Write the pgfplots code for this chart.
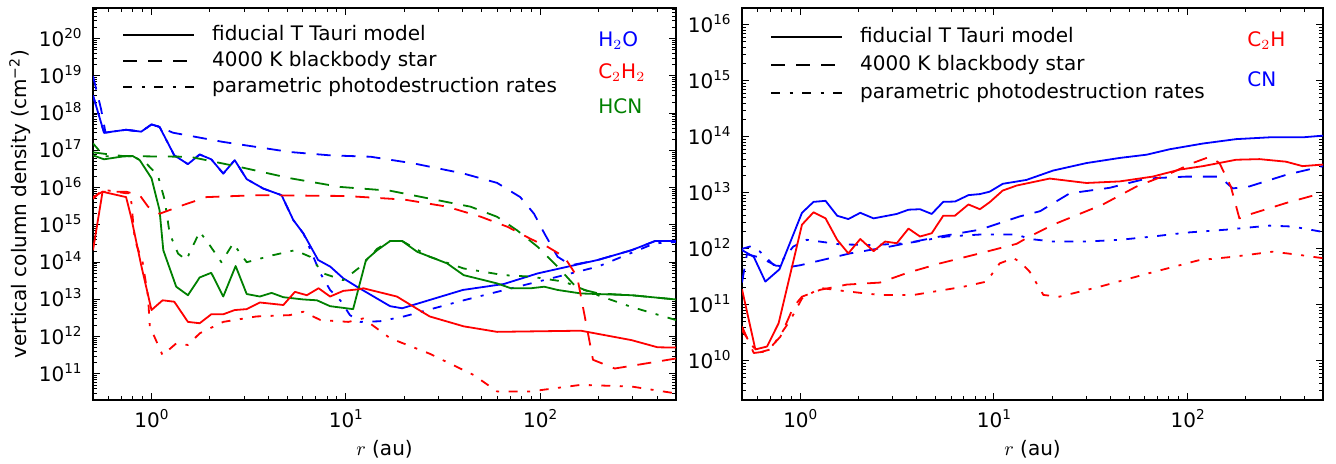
\documentclass[border=0pt]{standalone}
\usepackage{fontspec}
\setmainfont{DejaVu Sans}
\usepackage{pgfplots}
\pgfplotsset{compat=1.18}
\definecolor{mblue}{RGB}{0,0,255}
\definecolor{mred}{RGB}{255,0,0}
\definecolor{mgreen}{RGB}{0,128,0}

\newcommand{\pw}{10\raisebox{4pt}{\fontsize{6.8}{6.8}\selectfont\pgfmathparse{int(round(\tick/2.302585093))}\pgfmathresult}}

\tikzset{
  sol/.style={solid},
  dsh/.style={dash pattern=on 7pt off 5.5pt},
  dd/.style={dash pattern=on 4.5pt off 4.75pt on 1.5pt off 4.75pt},
}
\pgfplotsset{
  every axis/.append style={
    scale only axis,
    xmode=log, ymode=log, xmin=0.5, xmax=500,
    xtick={1,10,100},
    minor xtick={0.6,0.7,0.8,0.9,2,3,4,5,6,7,8,9,20,30,40,50,60,70,80,90,200,300,400},
    tick align=inside, xtick pos=both, ytick pos=both,
    major tick length=3.5pt, minor tick length=2pt,
    axis line style={line width=1.1pt},
    every tick/.style={black, line width=0.5pt},
    xticklabel={\pw}, yticklabel={\pw},
    xticklabel style={anchor=base, inner sep=0pt, yshift=-13.7pt},
    yticklabel style={anchor=base east, inner sep=0pt, xshift=-5.5pt, yshift=-3.7pt},
    xlabel={$r$ (au)},
    no markers,
    legend cell align=left,
  },
  every axis x label/.style={at={(axis description cs:0.5,-0.125)}, anchor=center},
  every axis plot/.append style={line width=0.9pt, line join=round},
  legend image code/.code={\draw[line width=0.9pt,#1] (0pt,0pt) -- (35.5pt,0pt);},
}

\begin{document}
\fontsize{10}{12}\selectfont
\begin{tikzpicture}
\path[use as bounding box] (0,0) rectangle (668pt,232pt);

% left panel: H2O, C2H2, HCN
\begin{axis}[at={(46.5pt,32pt)}, anchor=south west,
  width=291.5pt, height=196pt,
  ymin=2e10, ymax=6.7e20,
  ytick={1e11,1e12,1e13,1e14,1e15,1e16,1e17,1e18,1e19,1e20},
  minor ytick={3e10,4e10,5e10,6e10,7e10,8e10,9e10,
    2e11,3e11,4e11,5e11,6e11,7e11,8e11,9e11, 2e12,3e12,4e12,5e12,6e12,7e12,8e12,9e12,
    2e13,3e13,4e13,5e13,6e13,7e13,8e13,9e13, 2e14,3e14,4e14,5e14,6e14,7e14,8e14,9e14,
    2e15,3e15,4e15,5e15,6e15,7e15,8e15,9e15, 2e16,3e16,4e16,5e16,6e16,7e16,8e16,9e16,
    2e17,3e17,4e17,5e17,6e17,7e17,8e17,9e17, 2e18,3e18,4e18,5e18,6e18,7e18,8e18,9e18,
    2e19,3e19,4e19,5e19,6e19,7e19,8e19,9e19, 2e20,3e20,4e20,5e20,6e20},
  ylabel={vertical column density (cm\textsuperscript{−2})},
  every axis y label/.style={at={(axis description cs:-0.125,0.5)}, rotate=90, anchor=center},
  legend style={at={(0.0497,0.957)}, anchor=north west, draw=none, fill=none, inner sep=0pt,
    row sep=3.5pt, nodes={inner sep=0pt, text height=7.5pt, text depth=2pt},
    /tikz/every odd column/.append style={column sep=8.5pt}},
]
\addlegendimage{black,sol}\addlegendentry{fiducial T Tauri model}
\addlegendimage{black,dsh}\addlegendentry{4000 K blackbody star}
\addlegendimage{black,dd}\addlegendentry{parametric photodestruction rates}

% H2O
\addplot[mblue,sol] coordinates {
(0.5,3.0e18) (0.57,3.0e17) (0.74,3.6e17) (0.885,3.2e17) (1.0,5.0e17) (1.10,4.3e17)
(1.31,7.4e16) (1.54,4.3e16) (1.77,7.8e16) (2.03,5.8e16) (2.34,2.4e16) (2.68,5.5e16)
(3.09,1.7e16) (3.76,9.5e15) (4.67,6.3e15) (5.37,1.35e15) (6.05,5.9e14) (7.2,1.15e14)
(8.32,7.6e13) (9.7,3.7e13) (11.4,2.2e13) (15.0,9.5e12) (16.9,6.6e12) (19.5,5.8e12)
(40,1.8e13) (65,2.6e13) (97,5.0e13) (198,1.15e14) (295,2.1e14) (390,3.7e14) (500,3.7e14)};
\addplot[mblue,dsh] coordinates {
(0.5,1.0e19) (0.55,1.3e18) (0.58,3.0e17) (0.74,3.6e17) (0.885,3.2e17) (1.0,5.0e17)
(1.10,4.3e17) (1.29,3.0e17) (2.33,1.7e17) (5.16,9.1e16) (8.3,7.4e16) (13.4,6.8e16)
(22.3,4.5e16) (40.4,2.4e16) (60,1.35e16) (79,5.6e15) (93,2.0e15) (105,6.0e14)
(123,1.4e14) (144,8.3e13) (198,1.15e14) (295,2.1e14) (390,3.7e14) (500,3.7e14)};
\addplot[mblue,dd] coordinates {
(0.5,3.0e18) (0.57,3.0e17) (0.74,3.6e17) (0.885,3.2e17) (1.0,5.0e17) (1.10,4.3e17)
(1.31,7.4e16) (1.54,4.3e16) (1.77,7.8e16) (2.03,5.8e16) (2.34,2.4e16) (2.68,5.5e16)
(3.09,1.7e16) (3.76,9.5e15) (4.67,6.3e15) (5.37,1.35e15) (6.05,5.9e14) (7.4,5.0e13)
(8.3,1.8e13) (9.36,9.5e12) (10.5,3.8e12) (11.9,2.5e12) (15,2.6e12) (19.9,3.5e12)
(40.4,9.5e12) (89.6,2.7e13) (198,7.6e13) (388,3.2e14) (500,3.5e14)};

% HCN
\addplot[mgreen,sol] coordinates {
(0.5,7.4e16) (0.57,5.8e16) (0.71,6.9e16) (0.80,7.1e16) (0.87,5.5e16) (1.0,1.8e16)
(1.10,2.5e15) (1.15,2.1e14) (1.34,2.2e13) (1.54,1.3e13) (1.77,3.9e13) (2.03,5.2e13)
(2.34,1.2e13) (2.71,7.9e13) (3.09,1.4e13) (3.61,1.2e13) (4.15,1.5e13) (4.77,1.15e13)
(6.05,1.0e13) (7.1,9.5e12) (8.3,6.6e12) (10.9,5.5e12) (12.7,1.15e14) (14.5,2.1e14)
(16.9,3.7e14) (19.5,3.7e14) (23.3,1.9e14) (33.2,9.3e13) (40.4,4.5e13) (60,2.7e13)
(70.7,2.0e13) (89.6,2.0e13) (105,2.2e13) (123,1.8e13) (162,1.45e13) (295,1.3e13) (500,1.0e13)};
\addplot[mgreen,dsh] coordinates {
(0.5,8.9e16) (0.71,7.1e16) (1.06,6.9e16) (1.57,6.8e16) (2.85,3.6e16) (5.16,1.8e16)
(9.36,1.05e16) (16.9,8.3e15) (27,5.1e15) (43.8,3.1e15) (60,1.66e15) (76,7.2e14)
(97,2.6e14) (123,7.6e13) (155,2.0e13) (200,1.45e13) (295,1.3e13) (500,1.0e13)};
\addplot[mgreen,dd] coordinates {
(0.5,1.55e17) (0.57,7.0e16) (0.8,7.1e16) (0.94,4.5e16) (1.08,2.1e16) (1.17,4.6e15)
(1.24,5.9e14) (1.37,1.7e14) (1.51,1.15e14) (1.77,6.6e14) (1.99,2.9e14) (2.29,1.0e14)
(2.63,3.2e14) (3.09,1.0e14) (4.23,1.55e14) (5.47,2.1e14) (6.55,1.4e14) (7.67,5.0e13)
(9.7,3.3e13) (11.9,7.6e13) (14.5,2.3e14) (16.9,3.7e14) (19.5,3.7e14) (27,1.4e14)
(40.4,6.8e13) (65,4.5e13) (89.6,4.1e13) (133,3.0e13) (198,1.3e13) (295,6.3e12) (500,2.8e12)};

% C2H2
\addplot[mred,sol] coordinates {
(0.5,2.1e14) (0.56,7.8e15) (0.74,5.6e15) (0.785,1.66e15) (0.885,8.3e13) (1.0,5.2e12)
(1.14,9.5e12) (1.31,8.7e12) (1.54,2.5e12) (1.77,2.3e12) (2.03,4.0e12) (2.34,4.0e12)
(2.68,5.2e12) (3.09,5.5e12) (3.61,8.3e12) (4.77,7.1e12) (5.47,1.6e13) (6.3,1.3e13)
(7.24,2.0e13) (8.3,1.2e13) (9.7,1.7e13) (11.9,1.9e13) (12.3,2.0e13) (18.3,1.2e13)
(27,3.5e12) (40.4,1.9e12) (60,1.35e12) (162,1.45e12) (295,8.1e11) (402,5.2e11) (500,5.1e11)};
\addplot[mred,dsh] coordinates {
(0.5,5.6e15) (0.56,7.8e15) (0.74,7.8e15) (0.87,6.3e15) (0.96,3.1e15) (1.10,2.0e15)
(1.45,3.4e15) (1.92,5.6e15) (3.47,6.3e15) (10,6.0e15) (20,4.8e15) (33.2,3.1e15)
(49.5,1.66e15) (68,8.9e14) (89.6,4.2e14) (109,2.6e14) (133,1.4e14) (155,4.1e13)
(175,1.5e12) (187,2.4e11) (242,1.4e11) (358,1.95e11) (500,2.6e11)};
\addplot[mred,dd] coordinates {
(0.5,5.0e15) (0.56,8.9e15) (0.74,7.1e15) (0.78,7.1e15) (0.82,4.0e14) (0.90,1.0e14)
(0.96,1.2e13) (0.98,1.9e12) (1.14,3.2e11) (1.34,6.6e11) (1.54,6.0e11) (1.77,1.23e12)
(2.34,2.5e12) (3.47,3.5e12) (5.16,3.8e12) (6.05,4.7e12) (7.4,2.8e12) (10.3,2.5e12)
(12.3,3.1e12) (16.9,9.1e11) (27,3.5e11) (45.6,9.3e10) (60,3.4e10) (89.6,3.4e10)
(162,5.1e10) (295,4.6e10) (500,3.0e10)};

\node[anchor=west, inner sep=0pt, text=mblue] at (rel axis cs:0.866,0.918) {H$_2$O};
\node[anchor=west, inner sep=0pt, text=mred] at (rel axis cs:0.866,0.834) {C$_2$H$_2$};
\node[anchor=west, inner sep=0pt, text=mgreen] at (rel axis cs:0.866,0.750) {HCN};
\end{axis}

% right panel: C2H, CN
\begin{axis}[at={(371pt,32pt)}, anchor=south west,
  width=290.5pt, height=196pt,
  ymin=2e9, ymax=2e16,
  ytick={1e10,1e11,1e12,1e13,1e14,1e15,1e16},
  minor ytick={3e9,4e9,5e9,6e9,7e9,8e9,9e9,
    2e10,3e10,4e10,5e10,6e10,7e10,8e10,9e10, 2e11,3e11,4e11,5e11,6e11,7e11,8e11,9e11,
    2e12,3e12,4e12,5e12,6e12,7e12,8e12,9e12, 2e13,3e13,4e13,5e13,6e13,7e13,8e13,9e13,
    2e14,3e14,4e14,5e14,6e14,7e14,8e14,9e14, 2e15,3e15,4e15,5e15,6e15,7e15,8e15,9e15},
  legend style={at={(0.048,0.952)}, anchor=north west, draw=none, fill=none, inner sep=0pt,
    row sep=4.5pt, nodes={inner sep=0pt, text height=7.5pt, text depth=2pt},
    /tikz/every odd column/.append style={column sep=8.5pt}},
]
\addlegendimage{black,sol}\addlegendentry{fiducial T Tauri model}
\addlegendimage{black,dsh}\addlegendentry{4000 K blackbody star}
\addlegendimage{black,dd}\addlegendentry{parametric photodestruction rates}

% CN
\addplot[mblue,sol] coordinates {
(0.5,9.5e11) (0.575,7.2e11) (0.66,2.6e11) (0.78,4.3e11) (1.02,4.4e12) (1.17,6.9e12)
(1.35,7.2e12) (1.55,3.9e12) (1.77,3.4e12) (2.04,4.4e12) (2.39,3.5e12) (3.15,4.2e12)
(3.62,5.0e12) (4.15,5.1e12) (4.77,4.2e12) (5.47,6.9e12) (6.3,7.0e12) (7.38,9.1e12)
(8.46,9.5e12) (9.5,1.05e13) (11.1,1.45e13) (14.7,1.7e13) (20.2,2.5e13) (30,3.4e13)
(44.6,4.2e13) (61.4,4.8e13) (80.7,6.0e13) (120,7.6e13) (178,9.1e13) (264,9.8e13)
(392,9.8e13) (500,1.05e14)};
\addplot[mblue,dsh] coordinates {
(0.5,2.5e11) (0.53,8.0e11) (0.62,7.0e11) (0.75,5.0e11) (0.9,4.8e11) (1.0,5.1e11)
(1.81,8.3e11) (2.91,1.1e12) (5.26,1.66e12) (8.46,2.2e12) (13.6,3.8e12) (17.3,4.7e12)
(24.6,9.8e12) (39.6,1.23e13) (61.4,1.8e13) (98.5,1.95e13) (146,1.95e13) (171,1.2e13)
(208,1.3e13) (323,2.1e13) (500,3.0e13)};
\addplot[mblue,dd] coordinates {
(0.5,1.0e12) (0.55,1.1e12) (0.62,8.9e11) (0.73,5.1e11) (0.8,6.0e11) (0.92,1.1e12)
(1.08,1.45e12) (1.61,1.2e12) (2.39,1.17e12) (3.55,1.26e12) (5.7,1.66e12) (8.46,1.8e12)
(13.1,1.8e12) (15.3,1.5e12) (20.2,1.35e12) (30,1.35e12) (44.6,1.45e12) (66,1.66e12)
(98.5,1.95e12) (158,2.2e12) (264,2.6e12) (349,2.5e12) (500,2.0e12)};

% C2H
\addplot[mred,sol] coordinates {
(0.5,1.9e11) (0.586,1.6e10) (0.673,1.8e10) (0.773,4.7e10) (1.02,2.7e12) (1.17,4.5e12)
(1.35,3.5e12) (1.55,1.45e12) (1.77,8.3e11) (2.04,1.5e12) (2.39,9.1e11) (2.74,1.35e12)
(3.15,1.26e12) (3.62,2.3e12) (4.15,1.66e12) (4.77,1.9e12) (5.47,3.9e12) (6.28,3.9e12)
(7.38,6.2e12) (8.46,5.1e12) (9.5,6.8e12) (11.1,1.1e13) (13.1,1.35e13) (19.4,1.8e13)
(30,1.5e13) (44.6,1.6e13) (66,1.95e13) (91,2.6e13) (120,3.0e13) (178,3.9e13)
(235,4.0e13) (322,3.6e13) (392,3.0e13) (500,3.2e13)};
\addplot[mred,dsh] coordinates {
(0.5,4.1e10) (0.575,1.38e10) (0.673,1.48e10) (0.789,2.7e10) (0.924,9.3e10) (1.02,1.4e11)
(1.27,1.86e11) (1.74,2.3e11) (2.58,2.5e11) (3.55,3.7e11) (5.26,5.5e11) (8.46,8.3e11)
(13.1,1.23e12) (14.7,1.55e12) (20.2,2.7e12) (36.5,6.2e12) (54.5,1.3e13) (80.7,2.2e13)
(106,3.4e13) (130,4.4e13) (146,3.4e13) (167,1.3e13) (185,3.5e12) (208,4.1e12)
(323,6.6e12) (500,1.0e13)};
\addplot[mred,dd] coordinates {
(0.5,3.5e10) (0.60,1.38e10) (0.7,1.6e10) (0.89,5.4e10) (1.02,1.3e11) (1.27,2.0e11)
(1.74,1.74e11) (2.58,1.5e11) (3.84,1.5e11) (6.93,2.1e11) (9.15,2.6e11) (10.7,5.5e11)
(12.6,6.8e11) (13.6,5.9e11) (15.3,3.9e11) (18,1.5e11) (21.8,1.4e11) (35,2.1e11)
(63.7,3.7e11) (115,6.3e11) (171,7.2e11) (275,8.9e11) (377,7.8e11) (500,6.8e11)};

\node[anchor=west, inner sep=0pt, text=mred] at (rel axis cs:0.869,0.916) {C$_2$H};
\node[anchor=west, inner sep=0pt, text=mblue] at (rel axis cs:0.869,0.819) {CN};
\end{axis}
\end{tikzpicture}
\end{document}
